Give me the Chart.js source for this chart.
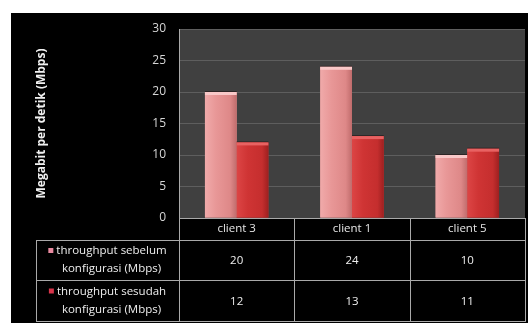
<!DOCTYPE html>
<html>
<head>
<meta charset="utf-8">
<script src="https://cdn.jsdelivr.net/npm/chart.js@4.4.1/dist/chart.umd.min.js"></script>
<style>
  html, body { margin: 0; padding: 0; background: #ffffff; }
  #wrap { width: 528px; height: 323px; position: relative; }
  canvas { display: block; }
</style>
</head>
<body>
<div id="wrap"><canvas id="chart" width="528" height="323"></canvas></div>
<script>
// Throughput per client, before and after configuration (Mbps)
const categories = ['client 3', 'client 1', 'client 5'];
const seriesLabels = [
  ['throughput sebelum', 'konfigurasi (Mbps)'],
  ['throughput sesudah', 'konfigurasi (Mbps)']
];
const throughputBefore = [20, 24, 10];
const throughputAfter = [12, 13, 11];
const yMin = 0;
const yMax = 30;
const yStep = 5;

const FONT = '"Open Sans", Lato, "DejaVu Sans", sans-serif';

// Bar shading: a horizontal gradient per bar plus a light cap on top
const barStyles = [
  { stops: ['#f0aaaa', '#e89797', '#de8888', '#c06c6c'], cap: '#f9c8c8', swatch: '#e98aa0' },
  { stops: ['#dc4545', '#cf3434', '#c52e2e', '#9e2020'], cap: '#e86262', swatch: '#d8344a' }
];

const frame = {
  id: 'frame',
  beforeDraw(chart) {
    const { ctx, chartArea: a, width, height } = chart;
    ctx.save();
    ctx.fillStyle = '#ffffff';
    ctx.fillRect(0, 0, width, height);
    ctx.fillStyle = '#000000';
    ctx.fillRect(11, 13, width - 11, height - 13);
    ctx.fillStyle = '#404040';
    ctx.fillRect(a.left, a.top, a.right - a.left, a.bottom - a.top);
    ctx.restore();
  },
  afterDatasetsDraw(chart) {
    const { ctx } = chart;
    ctx.save();
    chart.data.datasets.forEach((ds, di) => {
      const meta = chart.getDatasetMeta(di);
      const st = barStyles[di];
      meta.data.forEach(el => {
        const x0 = el.x - el.width / 2, x1 = el.x + el.width / 2;
        const g = ctx.createLinearGradient(x0, 0, x1, 0);
        g.addColorStop(0, st.stops[0]);
        g.addColorStop(0.35, st.stops[1]);
        g.addColorStop(0.8, st.stops[2]);
        g.addColorStop(1, st.stops[3]);
        ctx.fillStyle = g;
        ctx.fillRect(x0, el.y, el.width, el.base - el.y);
        ctx.fillStyle = 'rgba(30,15,15,0.55)';
        ctx.fillRect(x0, el.y - 1, el.width, 1);
        ctx.fillStyle = st.cap;
        ctx.fillRect(x0, el.y, el.width, 3);
      });
    });
    ctx.restore();
  },
  afterDraw(chart) {
    const { ctx, chartArea: a, scales: { x } } = chart;
    const n = categories.length;
    const catW = (a.right - a.left) / n;
    const tableLeft = 36;
    const headerBottom = a.bottom + 22;
    const rowBottoms = [headerBottom + 40, headerBottom + 81];
    const rows = [throughputBefore, throughputAfter];

    ctx.save();
    ctx.strokeStyle = '#a9a9a9';
    ctx.lineWidth = 1;
    ctx.beginPath();
    // plot frame edges
    ctx.moveTo(a.left + 0.5, a.top);
    ctx.lineTo(a.left + 0.5, a.bottom);
    ctx.moveTo(a.left, a.bottom + 0.5);
    ctx.lineTo(a.right, a.bottom + 0.5);
    // vertical cell borders
    for (let i = 0; i <= n; i++) {
      const xx = Math.round(a.left + i * catW) + 0.5;
      ctx.moveTo(xx, a.bottom);
      ctx.lineTo(xx, rowBottoms[1]);
    }
    ctx.moveTo(tableLeft + 0.5, headerBottom);
    ctx.lineTo(tableLeft + 0.5, rowBottoms[1]);
    // horizontal row borders
    [headerBottom, rowBottoms[0], rowBottoms[1]].forEach(yy => {
      ctx.moveTo(tableLeft, Math.round(yy) + 0.5);
      ctx.lineTo(a.right + 1, Math.round(yy) + 0.5);
    });
    ctx.stroke();

    ctx.font = '11.5px ' + FONT;
    ctx.fillStyle = '#eeeeee';
    ctx.textBaseline = 'middle';
    const rowTops = [headerBottom, rowBottoms[0]];
    rows.forEach((vals, r) => {
      const top = rowTops[r], bottom = rowBottoms[r];
      const cy = (top + bottom) / 2;
      ctx.textAlign = 'center';
      vals.forEach((v, i) => {
        ctx.fillText(String(v), x.getPixelForValue(i), cy + 1);
      });
      // legend cell: swatch + two text lines
      const cellCx = (tableLeft + a.left) / 2;
      const l1 = seriesLabels[r][0], l2 = seriesLabels[r][1];
      const w1 = ctx.measureText(l1).width + 8;
      const sx = cellCx - w1 / 2;
      ctx.fillStyle = barStyles[r].swatch;
      ctx.fillRect(sx, cy - 12, 5, 5);
      ctx.fillStyle = '#eeeeee';
      ctx.textAlign = 'left';
      ctx.fillText(l1, sx + 8, cy - 9);
      ctx.textAlign = 'center';
      ctx.fillText(l2, cellCx + 4, cy + 9);
    });
    ctx.restore();
  }
};

new Chart(document.getElementById('chart'), {
  type: 'bar',
  data: {
    labels: categories,
    datasets: [
      { label: seriesLabels[0].join(' '), data: throughputBefore, backgroundColor: barStyles[0].stops[1], borderWidth: 0 },
      { label: seriesLabels[1].join(' '), data: throughputAfter, backgroundColor: barStyles[1].stops[1], borderWidth: 0 }
    ]
  },
  options: {
    responsive: false,
    animation: false,
    events: [],
    layout: { padding: { left: 0, top: 29, right: 3, bottom: 0 } },
    datasets: { bar: { categoryPercentage: 0.55, barPercentage: 1.0 } },
    plugins: { legend: { display: false }, tooltip: { enabled: false } },
    scales: {
      x: {
        grid: { display: false },
        border: { display: false },
        ticks: { color: '#e6e6e6', font: { family: FONT, size: 11.5 }, padding: -4 },
        afterFit(scale) { scale.height = 105; }
      },
      y: {
        min: yMin,
        max: yMax,
        grid: { color: '#5e5e5e', lineWidth: 1, drawTicks: false },
        border: { display: false },
        ticks: { stepSize: yStep, color: '#d6d6d6', font: { family: FONT, size: 12 }, padding: 13 },
        title: {
          display: true,
          text: 'Megabit per detik (Mbps)',
          color: '#f0f0f0',
          font: { family: FONT, size: 12, weight: 'bold' },
          padding: { top: 34, bottom: 0 }
        },
        afterFit(scale) { scale.width = 179; }
      }
    }
  },
  plugins: [frame]
});
</script>
</body>
</html>
